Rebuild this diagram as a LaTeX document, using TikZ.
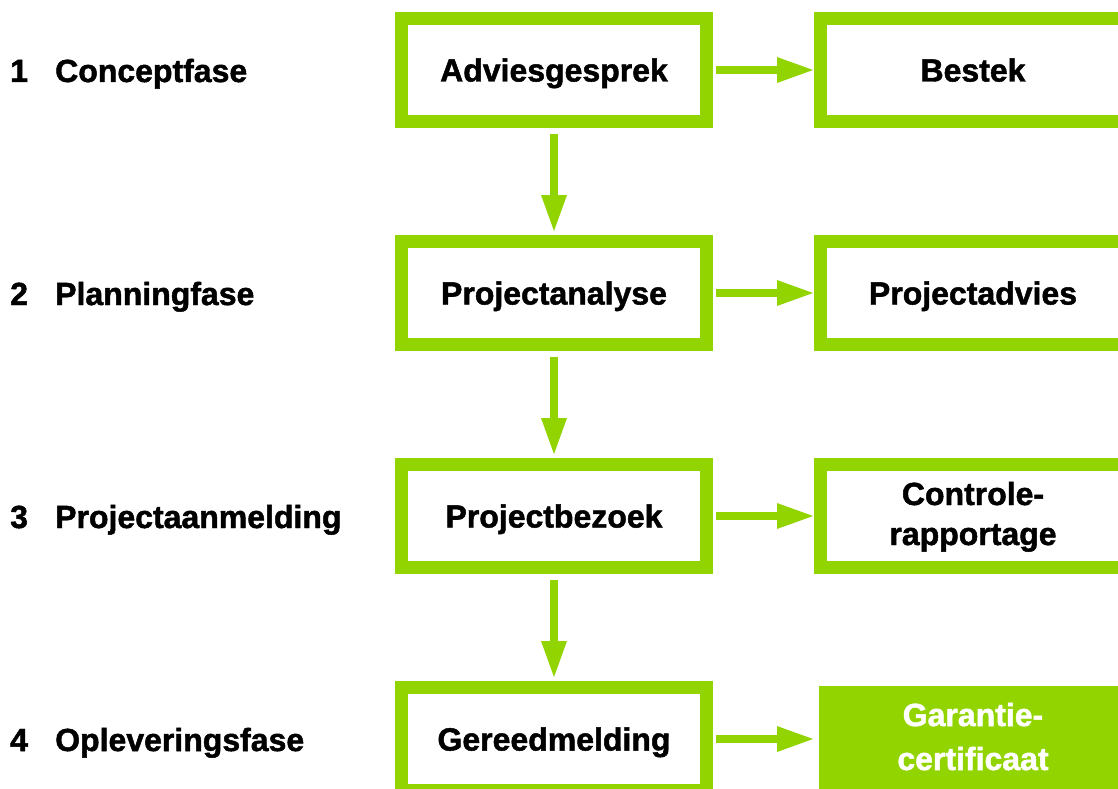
\documentclass[tikz,border=0pt]{standalone}
\usepackage{fontspec}
\setmainfont{Liberation Sans}[BoldFeatures={FakeBold=1.5}]
\usetikzlibrary{arrows.meta}
\definecolor{lime}{RGB}{146,212,0}
\begin{document}
\begin{tikzpicture}[x=1pt,y=-1pt,
  lbl/.style={font=\bfseries\fontsize{32}{38}\selectfont},
  box/.style={lbl, draw=lime, line width=13pt, outer sep=0pt, inner sep=0pt,
    minimum width=305pt, minimum height=103pt, text height=23pt, text depth=0pt, align=center},
  fbox/.style={lbl, fill=lime, text=white, outer sep=0pt, inner sep=0pt,
    minimum width=308pt, minimum height=106pt, text height=23pt, text depth=0pt, align=center},
  flow/.style={draw=lime, line width=8pt, -{Triangle[length=36pt,width=26pt,line width=0pt]}},
  phase/.style={lbl, anchor=base west, inner sep=0pt}]
\useasboundingbox (0,0) rectangle (1118,789);
\clip (0,0) rectangle (1118,789);

% phase labels
\node[phase] (n1) at (10,82) {1};
\node[phase] (p1) at (55,82) {Conceptfase};
\node[phase] (n2) at (10,305) {2};
\node[phase] (p2) at (55,305) {Planningfase};
\node[phase] (n3) at (10,528) {3};
\node[phase] (p3) at (55,528) {Projectaanmelding};
\node[phase] (n4) at (10,751) {4};
\node[phase] (p4) at (55,751) {Opleveringsfase};

% main column
\node[box] (a1) at (554,70) {Adviesgesprek};
\node[box] (a2) at (554,293) {Projectanalyse};
\node[box] (a3) at (554,516) {Projectbezoek};
\node[box] (a4) at (554,739) {Gereedmelding};

% results column
\node[box] (b1) at (973,70) {Bestek};
\node[box] (b2) at (973,293) {Projectadvies};
\node[box, font=\bfseries\fontsize{32}{40}\selectfont, text height=58pt, text depth=0pt] (b3) at (973,516) {Controle-\\rapportage};
\node[fbox, font=\bfseries\fontsize{32}{44}\selectfont, text height=62pt, text depth=0pt] (b4) at (973,739) {Garantie-\\certificaat};

% connectors
\foreach \i in {1,2,3}{
  \draw[flow, shorten <=9.5pt, shorten >=7.5pt] (a\i.east) -- (b\i.west);
}
\draw[flow, shorten <=9.5pt, shorten >=6pt] (a4.east) -- (b4.west);
\draw[flow, shorten <=12.5pt, shorten >=10.5pt] (a1.south) -- (a2.north);
\draw[flow, shorten <=12.5pt, shorten >=10.5pt] (a2.south) -- (a3.north);
\draw[flow, shorten <=12.5pt, shorten >=10.5pt] (a3.south) -- (a4.north);
\end{tikzpicture}
\end{document}
